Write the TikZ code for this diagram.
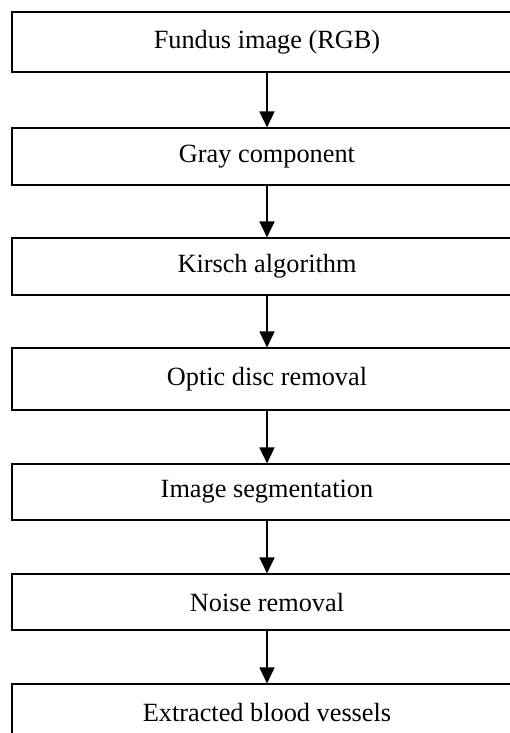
\documentclass[tikz,border=0pt]{standalone}
\usepackage{fontspec}
\setmainfont{Liberation Serif}
\usepackage{tikz}
\usetikzlibrary{arrows.meta}
\tikzset{stagebox/.style={draw,line width=1.1pt,minimum width=510pt,inner sep=0pt,font=\fontsize{26.3}{31}\selectfont}}

\begin{document}
\begin{tikzpicture}[x=1pt,y=-1pt]
\useasboundingbox (0,0) rectangle (509,733);
\node[stagebox,minimum height=60pt] (fundus) at (267,42) {Fundus image (RGB)};
\node[stagebox,minimum height=57pt] (gray) at (267,156.5) {Gray component};
\node[stagebox,minimum height=57pt] (kirsch) at (267,266.5) {Kirsch algorithm};
\node[stagebox,minimum height=62pt] (optic) at (267,379) {Optic disc removal};
\node[stagebox,minimum height=56pt] (segment) at (267,492) {Image segmentation};
\node[stagebox,minimum height=56pt] (noise) at (267,602) {Noise removal};
\node[stagebox,minimum height=57pt] (vessels) at (267,712.5) {Extracted blood vessels};
\foreach \a/\b in {fundus/gray,gray/kirsch,kirsch/optic,optic/segment,segment/noise,noise/vessels}
  {\draw[-{Triangle[length=16pt,width=15pt]},line width=1.6pt] (\a) -- (\b);}
\end{tikzpicture}
\end{document}
